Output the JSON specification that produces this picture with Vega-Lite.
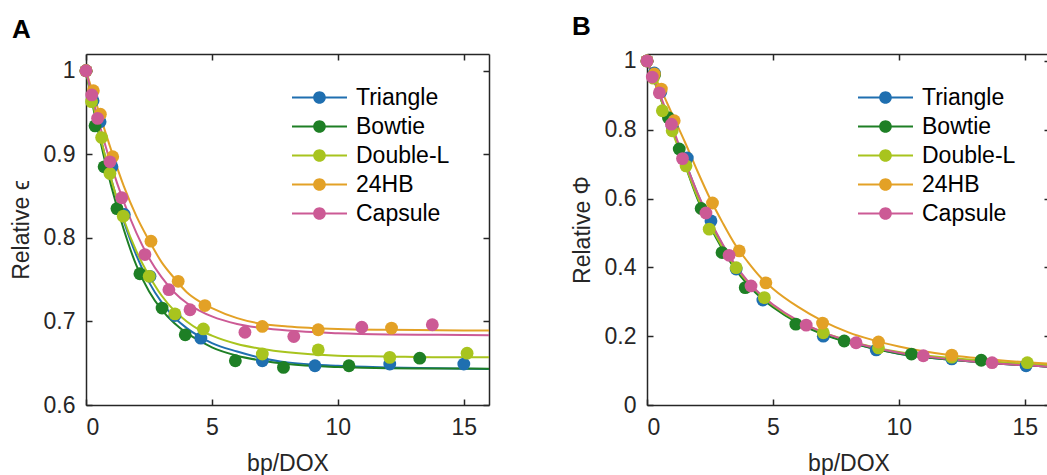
{
  "$schema": "https://vega.github.io/schema/vega-lite/v6.json",
  "autosize": {"type": "pad"},
  "padding": {"left": 10, "top": 13, "right": 0, "bottom": 0},
  "background": "white",
  "datasets": {
    "pointsA": [
      {"s": "Triangle", "x": 0, "y": 1.0}, {"s": "Triangle", "x": 0.28, "y": 0.964}, {"s": "Triangle", "x": 0.56, "y": 0.939}, {"s": "Triangle", "x": 1.03, "y": 0.885}, {"s": "Triangle", "x": 1.52, "y": 0.828}, {"s": "Triangle", "x": 2.54, "y": 0.754}, {"s": "Triangle", "x": 3.53, "y": 0.707}, {"s": "Triangle", "x": 4.56, "y": 0.680}, {"s": "Triangle", "x": 7.0, "y": 0.653}, {"s": "Triangle", "x": 9.09, "y": 0.647}, {"s": "Triangle", "x": 12.06, "y": 0.649}, {"s": "Triangle", "x": 15.0, "y": 0.649},
      {"s": "Bowtie", "x": 0, "y": 1.0}, {"s": "Bowtie", "x": 0.36, "y": 0.934}, {"s": "Bowtie", "x": 0.72, "y": 0.885}, {"s": "Bowtie", "x": 1.23, "y": 0.835}, {"s": "Bowtie", "x": 2.14, "y": 0.757}, {"s": "Bowtie", "x": 3.02, "y": 0.716}, {"s": "Bowtie", "x": 3.94, "y": 0.684}, {"s": "Bowtie", "x": 5.93, "y": 0.653}, {"s": "Bowtie", "x": 7.84, "y": 0.645}, {"s": "Bowtie", "x": 10.44, "y": 0.647}, {"s": "Bowtie", "x": 13.25, "y": 0.656},
      {"s": "Double-L", "x": 0, "y": 1.0}, {"s": "Double-L", "x": 0.22, "y": 0.963}, {"s": "Double-L", "x": 0.62, "y": 0.920}, {"s": "Double-L", "x": 0.95, "y": 0.877}, {"s": "Double-L", "x": 1.48, "y": 0.826}, {"s": "Double-L", "x": 2.51, "y": 0.754}, {"s": "Double-L", "x": 3.53, "y": 0.709}, {"s": "Double-L", "x": 4.66, "y": 0.691}, {"s": "Double-L", "x": 7.0, "y": 0.661}, {"s": "Double-L", "x": 9.22, "y": 0.666}, {"s": "Double-L", "x": 12.06, "y": 0.657}, {"s": "Double-L", "x": 15.13, "y": 0.662},
      {"s": "24HB", "x": 0, "y": 1.0}, {"s": "24HB", "x": 0.29, "y": 0.976}, {"s": "24HB", "x": 0.57, "y": 0.948}, {"s": "24HB", "x": 1.06, "y": 0.897}, {"s": "24HB", "x": 2.58, "y": 0.796}, {"s": "24HB", "x": 3.66, "y": 0.748}, {"s": "24HB", "x": 4.72, "y": 0.719}, {"s": "24HB", "x": 7.0, "y": 0.694}, {"s": "24HB", "x": 9.22, "y": 0.690}, {"s": "24HB", "x": 12.13, "y": 0.692},
      {"s": "Capsule", "x": 0, "y": 1.0}, {"s": "Capsule", "x": 0.23, "y": 0.971}, {"s": "Capsule", "x": 0.46, "y": 0.943}, {"s": "Capsule", "x": 0.95, "y": 0.891}, {"s": "Capsule", "x": 1.42, "y": 0.848}, {"s": "Capsule", "x": 2.34, "y": 0.780}, {"s": "Capsule", "x": 3.29, "y": 0.738}, {"s": "Capsule", "x": 4.13, "y": 0.714}, {"s": "Capsule", "x": 6.31, "y": 0.687}, {"s": "Capsule", "x": 8.25, "y": 0.682}, {"s": "Capsule", "x": 10.95, "y": 0.693}, {"s": "Capsule", "x": 13.75, "y": 0.696}
    ],
    "fitA": [
      {"s": "Triangle", "x": 0, "y": 1}, {"s": "Triangle", "x": 0.5, "y": 0.93}, {"s": "Triangle", "x": 1, "y": 0.87}, {"s": "Triangle", "x": 1.5, "y": 0.82}, {"s": "Triangle", "x": 2, "y": 0.779}, {"s": "Triangle", "x": 2.5, "y": 0.747}, {"s": "Triangle", "x": 3, "y": 0.723}, {"s": "Triangle", "x": 3.5, "y": 0.705}, {"s": "Triangle", "x": 4, "y": 0.692}, {"s": "Triangle", "x": 4.5, "y": 0.682}, {"s": "Triangle", "x": 5, "y": 0.674}, {"s": "Triangle", "x": 6, "y": 0.664}, {"s": "Triangle", "x": 7, "y": 0.656}, {"s": "Triangle", "x": 8, "y": 0.651}, {"s": "Triangle", "x": 10, "y": 0.647}, {"s": "Triangle", "x": 12, "y": 0.645}, {"s": "Triangle", "x": 14, "y": 0.644}, {"s": "Triangle", "x": 16, "y": 0.643},
      {"s": "Bowtie", "x": 0, "y": 1}, {"s": "Bowtie", "x": 0.5, "y": 0.925}, {"s": "Bowtie", "x": 1, "y": 0.862}, {"s": "Bowtie", "x": 1.5, "y": 0.81}, {"s": "Bowtie", "x": 2, "y": 0.767}, {"s": "Bowtie", "x": 2.5, "y": 0.736}, {"s": "Bowtie", "x": 3, "y": 0.714}, {"s": "Bowtie", "x": 3.5, "y": 0.698}, {"s": "Bowtie", "x": 4, "y": 0.686}, {"s": "Bowtie", "x": 4.5, "y": 0.677}, {"s": "Bowtie", "x": 5, "y": 0.669}, {"s": "Bowtie", "x": 6, "y": 0.659}, {"s": "Bowtie", "x": 7, "y": 0.653}, {"s": "Bowtie", "x": 8, "y": 0.649}, {"s": "Bowtie", "x": 10, "y": 0.6455}, {"s": "Bowtie", "x": 12, "y": 0.644}, {"s": "Bowtie", "x": 14, "y": 0.6437}, {"s": "Bowtie", "x": 16, "y": 0.6435},
      {"s": "Double-L", "x": 0, "y": 1}, {"s": "Double-L", "x": 0.5, "y": 0.93}, {"s": "Double-L", "x": 1, "y": 0.87}, {"s": "Double-L", "x": 1.5, "y": 0.822}, {"s": "Double-L", "x": 2, "y": 0.784}, {"s": "Double-L", "x": 2.5, "y": 0.755}, {"s": "Double-L", "x": 3, "y": 0.731}, {"s": "Double-L", "x": 3.5, "y": 0.713}, {"s": "Double-L", "x": 4, "y": 0.7}, {"s": "Double-L", "x": 4.5, "y": 0.69}, {"s": "Double-L", "x": 5, "y": 0.683}, {"s": "Double-L", "x": 6, "y": 0.673}, {"s": "Double-L", "x": 7, "y": 0.667}, {"s": "Double-L", "x": 8, "y": 0.663}, {"s": "Double-L", "x": 10, "y": 0.659}, {"s": "Double-L", "x": 12, "y": 0.658}, {"s": "Double-L", "x": 14, "y": 0.657}, {"s": "Double-L", "x": 16, "y": 0.657},
      {"s": "24HB", "x": 0, "y": 1}, {"s": "24HB", "x": 0.5, "y": 0.952}, {"s": "24HB", "x": 1, "y": 0.905}, {"s": "24HB", "x": 1.5, "y": 0.862}, {"s": "24HB", "x": 2, "y": 0.826}, {"s": "24HB", "x": 2.5, "y": 0.797}, {"s": "24HB", "x": 3, "y": 0.771}, {"s": "24HB", "x": 3.5, "y": 0.752}, {"s": "24HB", "x": 4, "y": 0.735}, {"s": "24HB", "x": 4.5, "y": 0.724}, {"s": "24HB", "x": 5, "y": 0.716}, {"s": "24HB", "x": 6, "y": 0.704}, {"s": "24HB", "x": 7, "y": 0.697}, {"s": "24HB", "x": 8, "y": 0.694}, {"s": "24HB", "x": 10, "y": 0.691}, {"s": "24HB", "x": 12, "y": 0.69}, {"s": "24HB", "x": 14, "y": 0.6895}, {"s": "24HB", "x": 16, "y": 0.689},
      {"s": "Capsule", "x": 0, "y": 1}, {"s": "Capsule", "x": 0.5, "y": 0.94}, {"s": "Capsule", "x": 1, "y": 0.887}, {"s": "Capsule", "x": 1.5, "y": 0.843}, {"s": "Capsule", "x": 2, "y": 0.806}, {"s": "Capsule", "x": 2.5, "y": 0.776}, {"s": "Capsule", "x": 3, "y": 0.753}, {"s": "Capsule", "x": 3.5, "y": 0.735}, {"s": "Capsule", "x": 4, "y": 0.722}, {"s": "Capsule", "x": 4.5, "y": 0.713}, {"s": "Capsule", "x": 5, "y": 0.706}, {"s": "Capsule", "x": 6, "y": 0.697}, {"s": "Capsule", "x": 7, "y": 0.692}, {"s": "Capsule", "x": 8, "y": 0.689}, {"s": "Capsule", "x": 10, "y": 0.686}, {"s": "Capsule", "x": 12, "y": 0.6845}, {"s": "Capsule", "x": 14, "y": 0.684}, {"s": "Capsule", "x": 16, "y": 0.6835}
    ],
    "pointsB": [
      {"s": "Triangle", "x": 0, "y": 1.0}, {"s": "Triangle", "x": 0.29, "y": 0.965}, {"s": "Triangle", "x": 0.55, "y": 0.91}, {"s": "Triangle", "x": 1.0, "y": 0.81}, {"s": "Triangle", "x": 1.6, "y": 0.718}, {"s": "Triangle", "x": 2.54, "y": 0.535}, {"s": "Triangle", "x": 3.54, "y": 0.395}, {"s": "Triangle", "x": 4.6, "y": 0.305}, {"s": "Triangle", "x": 7.0, "y": 0.2}, {"s": "Triangle", "x": 9.1, "y": 0.16}, {"s": "Triangle", "x": 12.1, "y": 0.134}, {"s": "Triangle", "x": 15.05, "y": 0.114},
      {"s": "Bowtie", "x": 0, "y": 1.0}, {"s": "Bowtie", "x": 0.3, "y": 0.96}, {"s": "Bowtie", "x": 0.85, "y": 0.835}, {"s": "Bowtie", "x": 1.28, "y": 0.744}, {"s": "Bowtie", "x": 2.15, "y": 0.571}, {"s": "Bowtie", "x": 2.98, "y": 0.443}, {"s": "Bowtie", "x": 3.9, "y": 0.341}, {"s": "Bowtie", "x": 5.91, "y": 0.235}, {"s": "Bowtie", "x": 7.83, "y": 0.186}, {"s": "Bowtie", "x": 10.5, "y": 0.148}, {"s": "Bowtie", "x": 13.27, "y": 0.13},
      {"s": "Double-L", "x": 0, "y": 1.0}, {"s": "Double-L", "x": 0.25, "y": 0.95}, {"s": "Double-L", "x": 0.61, "y": 0.855}, {"s": "Double-L", "x": 1.0, "y": 0.797}, {"s": "Double-L", "x": 1.55, "y": 0.695}, {"s": "Double-L", "x": 2.47, "y": 0.511}, {"s": "Double-L", "x": 3.54, "y": 0.399}, {"s": "Double-L", "x": 4.66, "y": 0.312}, {"s": "Double-L", "x": 7.0, "y": 0.21}, {"s": "Double-L", "x": 9.19, "y": 0.166}, {"s": "Double-L", "x": 12.1, "y": 0.139}, {"s": "Double-L", "x": 15.1, "y": 0.123},
      {"s": "24HB", "x": 0, "y": 1.0}, {"s": "24HB", "x": 0.29, "y": 0.962}, {"s": "24HB", "x": 0.57, "y": 0.918}, {"s": "24HB", "x": 1.08, "y": 0.826}, {"s": "24HB", "x": 2.6, "y": 0.587}, {"s": "24HB", "x": 3.66, "y": 0.448}, {"s": "24HB", "x": 4.72, "y": 0.355}, {"s": "24HB", "x": 6.97, "y": 0.238}, {"s": "24HB", "x": 9.19, "y": 0.183}, {"s": "24HB", "x": 12.1, "y": 0.145},
      {"s": "Capsule", "x": 0, "y": 1.0}, {"s": "Capsule", "x": 0.21, "y": 0.953}, {"s": "Capsule", "x": 0.49, "y": 0.907}, {"s": "Capsule", "x": 0.97, "y": 0.816}, {"s": "Capsule", "x": 1.41, "y": 0.716}, {"s": "Capsule", "x": 2.34, "y": 0.558}, {"s": "Capsule", "x": 3.26, "y": 0.435}, {"s": "Capsule", "x": 4.13, "y": 0.346}, {"s": "Capsule", "x": 6.32, "y": 0.232}, {"s": "Capsule", "x": 8.3, "y": 0.181}, {"s": "Capsule", "x": 10.97, "y": 0.143}, {"s": "Capsule", "x": 13.7, "y": 0.123}
    ],
    "fitB": [
      {"s": "Triangle", "x": 0, "y": 1}, {"s": "Triangle", "x": 0.5, "y": 0.9}, {"s": "Triangle", "x": 1, "y": 0.8}, {"s": "Triangle", "x": 1.5, "y": 0.71}, {"s": "Triangle", "x": 2, "y": 0.615}, {"s": "Triangle", "x": 2.5, "y": 0.535}, {"s": "Triangle", "x": 3, "y": 0.465}, {"s": "Triangle", "x": 3.5, "y": 0.405}, {"s": "Triangle", "x": 4, "y": 0.357}, {"s": "Triangle", "x": 4.5, "y": 0.318}, {"s": "Triangle", "x": 5, "y": 0.288}, {"s": "Triangle", "x": 6, "y": 0.24}, {"s": "Triangle", "x": 7, "y": 0.207}, {"s": "Triangle", "x": 8, "y": 0.183}, {"s": "Triangle", "x": 10, "y": 0.149}, {"s": "Triangle", "x": 12, "y": 0.132}, {"s": "Triangle", "x": 14, "y": 0.12}, {"s": "Triangle", "x": 16, "y": 0.111},
      {"s": "Bowtie", "x": 0, "y": 1}, {"s": "Bowtie", "x": 0.5, "y": 0.9}, {"s": "Bowtie", "x": 1, "y": 0.8}, {"s": "Bowtie", "x": 1.5, "y": 0.7}, {"s": "Bowtie", "x": 2, "y": 0.6}, {"s": "Bowtie", "x": 2.5, "y": 0.52}, {"s": "Bowtie", "x": 3, "y": 0.452}, {"s": "Bowtie", "x": 3.5, "y": 0.395}, {"s": "Bowtie", "x": 4, "y": 0.35}, {"s": "Bowtie", "x": 4.5, "y": 0.313}, {"s": "Bowtie", "x": 5, "y": 0.284}, {"s": "Bowtie", "x": 6, "y": 0.238}, {"s": "Bowtie", "x": 7, "y": 0.205}, {"s": "Bowtie", "x": 8, "y": 0.182}, {"s": "Bowtie", "x": 10, "y": 0.149}, {"s": "Bowtie", "x": 12, "y": 0.132}, {"s": "Bowtie", "x": 14, "y": 0.12}, {"s": "Bowtie", "x": 16, "y": 0.111},
      {"s": "Double-L", "x": 0, "y": 1}, {"s": "Double-L", "x": 0.5, "y": 0.9}, {"s": "Double-L", "x": 1, "y": 0.795}, {"s": "Double-L", "x": 1.5, "y": 0.7}, {"s": "Double-L", "x": 2, "y": 0.605}, {"s": "Double-L", "x": 2.5, "y": 0.525}, {"s": "Double-L", "x": 3, "y": 0.458}, {"s": "Double-L", "x": 3.5, "y": 0.402}, {"s": "Double-L", "x": 4, "y": 0.357}, {"s": "Double-L", "x": 4.5, "y": 0.32}, {"s": "Double-L", "x": 5, "y": 0.29}, {"s": "Double-L", "x": 6, "y": 0.243}, {"s": "Double-L", "x": 7, "y": 0.211}, {"s": "Double-L", "x": 8, "y": 0.187}, {"s": "Double-L", "x": 10, "y": 0.154}, {"s": "Double-L", "x": 12, "y": 0.137}, {"s": "Double-L", "x": 14, "y": 0.125}, {"s": "Double-L", "x": 16, "y": 0.116},
      {"s": "24HB", "x": 0, "y": 1}, {"s": "24HB", "x": 0.5, "y": 0.925}, {"s": "24HB", "x": 1, "y": 0.845}, {"s": "24HB", "x": 1.5, "y": 0.765}, {"s": "24HB", "x": 2, "y": 0.68}, {"s": "24HB", "x": 2.5, "y": 0.6}, {"s": "24HB", "x": 3, "y": 0.53}, {"s": "24HB", "x": 3.5, "y": 0.466}, {"s": "24HB", "x": 4, "y": 0.416}, {"s": "24HB", "x": 4.5, "y": 0.372}, {"s": "24HB", "x": 5, "y": 0.338}, {"s": "24HB", "x": 6, "y": 0.285}, {"s": "24HB", "x": 7, "y": 0.243}, {"s": "24HB", "x": 8, "y": 0.211}, {"s": "24HB", "x": 10, "y": 0.17}, {"s": "24HB", "x": 12, "y": 0.145}, {"s": "24HB", "x": 14, "y": 0.13}, {"s": "24HB", "x": 16, "y": 0.12},
      {"s": "Capsule", "x": 0, "y": 1}, {"s": "Capsule", "x": 0.5, "y": 0.905}, {"s": "Capsule", "x": 1, "y": 0.81}, {"s": "Capsule", "x": 1.5, "y": 0.71}, {"s": "Capsule", "x": 2, "y": 0.617}, {"s": "Capsule", "x": 2.5, "y": 0.538}, {"s": "Capsule", "x": 3, "y": 0.468}, {"s": "Capsule", "x": 3.5, "y": 0.408}, {"s": "Capsule", "x": 4, "y": 0.36}, {"s": "Capsule", "x": 4.5, "y": 0.322}, {"s": "Capsule", "x": 5, "y": 0.292}, {"s": "Capsule", "x": 6, "y": 0.245}, {"s": "Capsule", "x": 7, "y": 0.211}, {"s": "Capsule", "x": 8, "y": 0.186}, {"s": "Capsule", "x": 10, "y": 0.152}, {"s": "Capsule", "x": 12, "y": 0.133}, {"s": "Capsule", "x": 14, "y": 0.12}, {"s": "Capsule", "x": 16, "y": 0.111}
    ]
  },
  "hconcat": [
    {
      "width": 403,
      "height": 351,
      "title": {"text": "A", "anchor": "start", "frame": "group", "dx": -74, "offset": 10},
      "layer": [
        {
          "data": {"name": "fitA"},
          "mark": {"type": "line", "strokeWidth": 2, "interpolate": "monotone", "clip": true},
          "encoding": {
            "x": {"field": "x", "type": "quantitative", "scale": {"domain": [0, 16], "nice": false}, "axis": {"orient": "bottom", "values": [0, 5, 10, 15], "title": "bp/DOX", "labelPadding": 17, "titlePadding": 13}},
            "y": {"field": "y", "type": "quantitative", "scale": {"domain": [0.6, 1.02], "nice": false, "zero": false}, "axis": {"orient": "left", "values": [0.6, 0.7, 0.8, 0.9, 1], "format": "~g", "title": "Relative ϵ", "labelPadding": 17}},
            "color": {"field": "s", "type": "nominal", "scale": {"domain": ["Triangle", "Bowtie", "Double-L", "24HB", "Capsule"], "range": ["#1f6fb0", "#1e7f25", "#a8c41e", "#e3a126", "#cc5a95"]},
              "legend": {"orient": "none", "legendX": 206, "legendY": 29, "title": null,
                "symbolType": "M-1,-0.036L1,-0.036L1,0.036L-1,0.036ZM0.23,0A0.23,0.23 0 1,1 -0.23,0A0.23,0.23 0 1,1 0.23,0Z",
                "symbolSize": 3025, "clipHeight": 29, "rowPadding": 0, "labelOffset": 9,
                "encode": {"symbols": {"update": {"size": {"value": 3025}, "strokeWidth": {"value": 0}, "fill": {"scale": "concat_0_color", "field": "value"}, "opacity": {"value": 1}}}}}},
            "detail": {"field": "s"}
          }
        },
        {
          "data": {"name": "pointsA"},
          "mark": {"type": "point", "filled": true, "size": 165, "opacity": 1, "strokeWidth": 0},
          "encoding": {
            "x": {"field": "x", "type": "quantitative", "axis": {"orient": "top", "values": [0, 5, 10, 15], "labels": false, "title": null}},
            "y": {"field": "y", "type": "quantitative", "axis": {"orient": "right", "values": [0.6, 0.7, 0.8, 0.9, 1], "labels": false, "title": null}},
            "color": {"field": "s", "type": "nominal"}
          }
        }
      ],
      "resolve": {"axis": {"x": "independent", "y": "independent"}}
    },
    {
      "width": 403,
      "height": 351,
      "title": {"text": "B", "anchor": "start", "frame": "group", "dx": -75, "offset": 10},
      "layer": [
        {
          "data": {"name": "fitB"},
          "mark": {"type": "line", "strokeWidth": 2, "interpolate": "monotone", "clip": true},
          "encoding": {
            "x": {"field": "x", "type": "quantitative", "scale": {"domain": [0, 16], "nice": false}, "axis": {"orient": "bottom", "values": [0, 5, 10, 15], "title": "bp/DOX", "labelPadding": 17, "titlePadding": 13}},
            "y": {"field": "y", "type": "quantitative", "scale": {"domain": [0, 1.02], "nice": false}, "axis": {"orient": "left", "values": [0, 0.2, 0.4, 0.6, 0.8, 1], "format": "~g", "title": "Relative Φ", "labelPadding": 17}},
            "color": {"field": "s", "type": "nominal", "scale": {"domain": ["Triangle", "Bowtie", "Double-L", "24HB", "Capsule"], "range": ["#1f6fb0", "#1e7f25", "#a8c41e", "#e3a126", "#cc5a95"]},
              "legend": {"orient": "none", "legendX": 211, "legendY": 29, "title": null,
                "symbolType": "M-1,-0.036L1,-0.036L1,0.036L-1,0.036ZM0.23,0A0.23,0.23 0 1,1 -0.23,0A0.23,0.23 0 1,1 0.23,0Z",
                "symbolSize": 3025, "clipHeight": 29, "rowPadding": 0, "labelOffset": 9,
                "encode": {"symbols": {"update": {"size": {"value": 3025}, "strokeWidth": {"value": 0}, "fill": {"scale": "concat_1_color", "field": "value"}, "opacity": {"value": 1}}}}}},
            "detail": {"field": "s"}
          }
        },
        {
          "data": {"name": "pointsB"},
          "mark": {"type": "point", "filled": true, "size": 165, "opacity": 1, "strokeWidth": 0},
          "encoding": {
            "x": {"field": "x", "type": "quantitative", "axis": {"orient": "top", "values": [0, 5, 10, 15], "labels": false, "title": null}},
            "y": {"field": "y", "type": "quantitative", "axis": {"orient": "right", "values": [0, 0.2, 0.4, 0.6, 0.8, 1], "labels": false, "title": null}},
            "color": {"field": "s", "type": "nominal"}
          }
        }
      ],
      "resolve": {"axis": {"x": "independent", "y": "independent"}}
    }
  ],
  "spacing": 158,
  "bounds": "flush",
  "resolve": {"scale": {"color": "independent"}, "legend": {"color": "independent"}},
  "config": {
    "font": "Liberation Sans",
    "view": {"stroke": null},
    "axis": {
      "grid": false,
      "domainColor": "#262626", "domainWidth": 1.5,
      "tickColor": "#262626", "tickWidth": 1.5, "tickSize": -6,
      "labelFont": "Liberation Sans", "labelFontSize": 23, "labelColor": "#262626", "labelPadding": 14,
      "titleFont": "Liberation Sans", "titleFontSize": 23, "titleFontWeight": "normal", "titleColor": "#262626", "titlePadding": 10
    },
    "legend": {"labelFont": "Liberation Sans", "labelFontSize": 23, "labelColor": "#000000", "padding": 0},
    "title": {"font": "Liberation Sans", "fontSize": 26, "fontWeight": "bold", "color": "#000000"}
  }
}
